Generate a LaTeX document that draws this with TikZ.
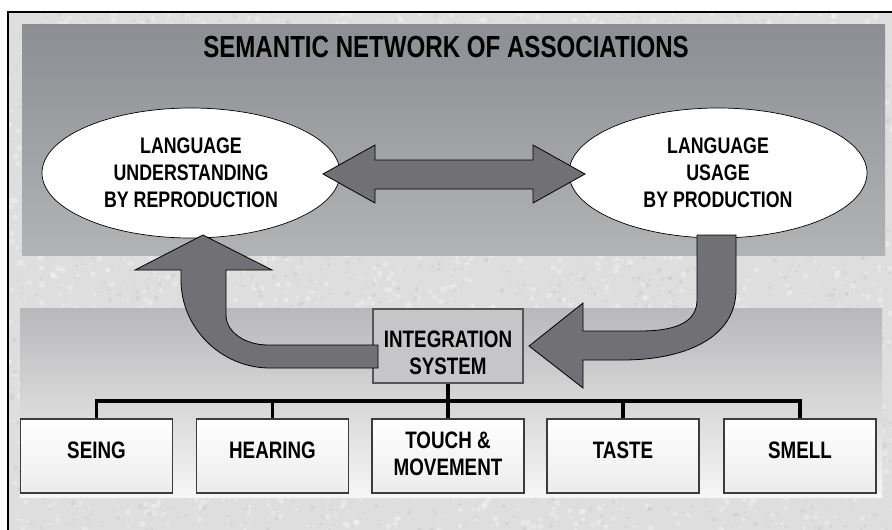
\documentclass[tikz,border=0pt]{standalone}
\usepackage{fontspec}
\newfontfamily\nb[FakeStretch=0.79]{Liberation Sans}
\usetikzlibrary{shapes.geometric}
\definecolor{texture}{RGB}{222,222,222}
\definecolor{speckdark}{RGB}{190,190,190}
\definecolor{bandtop}{RGB}{141,142,147}
\definecolor{bandbot}{RGB}{178,179,180}
\definecolor{lowtop}{RGB}{184,184,186}
\definecolor{lowbot}{RGB}{246,246,246}
\definecolor{arrowgray}{RGB}{113,113,117}
\definecolor{boxline}{RGB}{60,60,60}
\definecolor{boxbottom}{RGB}{236,236,236}
\definecolor{integfill}{RGB}{198,198,200}
\definecolor{integline}{RGB}{85,85,85}
\begin{document}
\begin{tikzpicture}[x=1pt,y=-1pt,
  bigarrow/.style={fill=arrowgray, draw=black, line width=0.8pt, line join=miter},
  langell/.style={ellipse, draw=black, line width=0.7pt, fill=white,
    minimum width=298pt, minimum height=130pt, inner sep=0pt,
    font=\nb\bfseries\fontsize{22.5}{27}\selectfont, align=center},
  sensebox/.style={rectangle, draw=boxline, line width=1.2pt, top color=white,
    bottom color=boxbottom, minimum width=152pt, minimum height=74pt, inner sep=0pt},
  integbox/.style={rectangle, draw=integline, line width=1.2pt, fill=integfill,
    minimum width=150pt, minimum height=74pt, inner sep=0pt},
  lbl/.style={font=\nb\bfseries\fontsize{23.8}{27.5}\selectfont, align=center,
    text=black, inner sep=0pt},
  titletxt/.style={font=\nb\bfseries\fontsize{30.5}{34}\selectfont, text=black, inner sep=0pt},
  busline/.style={draw=black, line width=3.6pt}]
\useasboundingbox (0,0) rectangle (892,530);
% background and frame
\fill[white] (0,0) rectangle (892,530);
\begin{scope}
\clip (8,12) rectangle (892,530);
\fill[texture] (8,12) rectangle (892,530);
\pgfmathsetseed{7}
\foreach \i in {1,...,2600} {
  \pgfmathsetmacro{\px}{8+884*rnd}
  \pgfmathsetmacro{\py}{12+518*rnd}
  \pgfmathsetmacro{\pr}{1+2.2*rnd}
  \fill[white, opacity=0.3] (\px,\py) circle[radius=\pr];
}
\foreach \i in {1,...,1800} {
  \pgfmathsetmacro{\px}{8+884*rnd}
  \pgfmathsetmacro{\py}{12+518*rnd}
  \pgfmathsetmacro{\pr}{0.8+1.6*rnd}
  \fill[speckdark, opacity=0.3] (\px,\py) circle[radius=\pr];
}
\end{scope}
\draw[black, line width=1.2pt] (8,530) -- (8,12) -- (892,12);
% bands
\shade[top color=bandtop, bottom color=bandbot] (22,24) rectangle (885,255);
\shade[top color=lowtop, bottom color=lowbot] (20,308) rectangle (882,497);
% title
\node[titletxt] (title) at (446,47) {SEMANTIC NETWORK OF ASSOCIATIONS};
% ellipses
\node[langell] (under) at (191,173) {LANGUAGE\\UNDERSTANDING\\BY REPRODUCTION};
\node[langell] (usage) at (718,173) {LANGUAGE\\USAGE\\BY PRODUCTION};
% integration and senses
\node[integbox] (integ) at (448,346) {};
\node[lbl] (integlbl) at (448,353) {INTEGRATION\\SYSTEM};
\node[sensebox] (seing) at (96.5,456) {};
\node[sensebox] (hearing) at (272.5,456) {};
\node[sensebox] (touch) at (448,456) {};
\node[sensebox] (taste) at (623,456) {};
\node[sensebox] (smell) at (800,456) {};
\node[lbl] (seinglbl) at (96.5,450) {SEING};
\node[lbl] (hearinglbl) at (272.5,450) {HEARING};
\node[lbl] (touchlbl) at (448,454) {TOUCH \&\\MOVEMENT};
\node[lbl] (tastelbl) at (623,450) {TASTE};
\node[lbl] (smelllbl) at (800,450) {SMELL};
% bus
\coordinate (bus) at (448,401);
\draw[busline] (seing.north) -- (seing.north |- bus) -- (smell.north |- bus) -- (smell.north);
\draw[busline] (integ.south) -- (touch.north);
\draw[busline] (hearing.north) -- (hearing.north |- bus);
\draw[busline] (taste.north) -- (taste.north |- bus);
% double arrow
\draw[bigarrow] (323,174) -- (375,145) -- (375,160) -- (533,160) -- (533,145)
  -- (585,174) -- (533,203) -- (533,189) -- (375,189) -- (375,203) -- cycle;
% left curved arrow (integration -> understanding)
\draw[bigarrow] (378,345) -- (268,345) .. controls (245,345) and (226,332) .. (226,315)
  -- (226,270) -- (272,270) -- (203,235) -- (135,270) -- (181,270) -- (181,280)
  .. controls (181,328) and (221,368) .. (270,368) -- (378,368) -- cycle;
% right curved arrow (usage -> integration)
\draw[bigarrow] (697,235) -- (697,300) .. controls (697,320) and (680,331) .. (640,331)
  -- (583,331) -- (583,303) -- (529,346) -- (583,388) -- (583,360) -- (622,360)
  .. controls (690,360) and (736,335) .. (736,290) -- (736,235) -- cycle;
\end{tikzpicture}
\end{document}
